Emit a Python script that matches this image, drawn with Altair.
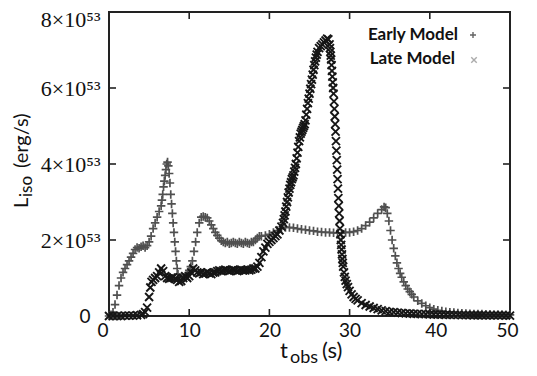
import altair as alt
import pandas as pd

# ---------------- data ----------------
# Late Model (dark curve, "x" markers); luminosity in units of 1e53 erg/s
late_t = [0.0, 0.5, 1.0, 1.5, 2.0, 2.5, 3.0, 3.5, 4.0, 4.25,
          4.5, 4.75, 5.0, 5.15, 5.3, 5.5, 5.75, 6.0, 6.25, 6.5,
          6.75, 7.0, 7.25, 7.5, 7.75, 8.0, 8.25, 8.5, 8.75, 9.0,
          9.25, 9.5, 9.75, 10.0, 10.25, 10.5, 10.75, 11.0, 11.25, 11.5,
          11.75, 12.0, 12.25, 12.5, 12.75, 13.0, 13.25, 13.5, 13.75, 14.0,
          14.25, 14.5, 14.75, 15.0, 15.25, 15.5, 15.75, 16.0, 16.25, 16.5,
          16.75, 17.0, 17.25, 17.5, 17.75, 18.0, 18.25, 18.5, 18.75, 19.0,
          19.25, 19.5, 19.75, 20.0, 20.25, 20.5, 20.75, 21.0, 21.25, 21.5,
          21.7, 21.8, 21.9, 22.0, 22.1, 22.2, 22.3, 22.4, 22.5, 22.6,
          22.7, 22.8, 22.9, 23.0, 23.1, 23.2, 23.3, 23.4, 23.5, 23.6,
          23.7, 23.8, 23.9, 24.0, 24.1, 24.2, 24.3, 24.4, 24.5, 24.6,
          24.7, 24.8, 24.9, 25.0, 25.1, 25.2, 25.3, 25.4, 25.5, 25.6,
          25.7, 25.8, 25.9, 26.0, 26.2, 26.4, 26.6, 26.8, 27.0, 27.2,
          27.35, 27.5, 27.55, 27.6, 27.65, 27.7, 27.75, 27.8, 27.85, 27.9,
          27.95, 28.0, 28.05, 28.1, 28.15, 28.2, 28.25, 28.3, 28.35, 28.4,
          28.45, 28.5, 28.55, 28.6, 28.65, 28.7, 28.75, 28.8, 28.85, 28.9,
          28.95, 29.0, 29.05, 29.1, 29.15, 29.2, 29.3, 29.4, 29.5, 29.65,
          29.8, 30.0, 30.25, 30.5, 30.75, 31.0, 31.5, 32.0, 32.5, 33.0,
          33.5, 34.0, 34.5, 35.0, 35.5, 36.0, 36.5, 37.0, 37.5, 38.0,
          38.5, 39.0, 39.5, 40.0, 40.5, 41.0, 41.5, 42.0, 42.5, 43.0,
          43.5, 44.0, 44.5, 45.0, 45.5, 46.0, 46.5, 47.0, 47.5, 48.0,
          48.5, 49.0, 49.5, 50.0]
late_L = [0.0, 0.0, 0.0, 0.0, 0.01, 0.01, 0.01, 0.02, 0.03, 0.05,
          0.1, 0.22, 0.5, 0.75, 0.9, 0.95, 1.0, 1.05, 1.15, 1.25,
          1.18, 1.05, 1.0, 0.98, 1.0, 1.02, 0.98, 0.95, 0.9, 0.92,
          1.0, 1.05, 1.0, 1.05, 1.15, 1.25, 1.2, 1.15, 1.12, 1.15,
          1.1, 1.12, 1.15, 1.12, 1.1, 1.14, 1.15, 1.18, 1.2, 1.18,
          1.2, 1.22, 1.2, 1.18, 1.2, 1.22, 1.2, 1.18, 1.2, 1.22,
          1.2, 1.2, 1.22, 1.2, 1.22, 1.25, 1.25, 1.3, 1.4, 1.55,
          1.7, 1.8, 1.9, 1.95, 2.0, 2.05, 2.1, 2.15, 2.25, 2.35,
          2.45, 2.55, 2.65, 2.75, 2.88, 3.0, 3.12, 3.25, 3.35, 3.45,
          3.52, 3.6, 3.65, 3.7, 3.8, 3.9, 4.0, 4.15, 4.3, 4.45,
          4.6, 4.7, 4.8, 4.85, 4.9, 4.95, 5.0, 5.05, 5.15, 5.3,
          5.45, 5.6, 5.72, 5.85, 5.98, 6.1, 6.22, 6.35, 6.48, 6.6,
          6.7, 6.8, 6.88, 6.95, 7.05, 7.1, 7.15, 7.2, 7.25, 7.3,
          7.28, 7.15, 7.05, 6.95, 6.85, 6.75, 6.6, 6.45, 6.3, 6.15,
          6.0, 5.85, 5.65, 5.45, 5.25, 5.05, 4.85, 4.6, 4.35, 4.1,
          3.85, 3.6, 3.35, 3.1, 2.9, 2.7, 2.5, 2.3, 2.15, 2.0,
          1.87, 1.75, 1.62, 1.5, 1.4, 1.3, 1.15, 1.03, 0.93, 0.84,
          0.76, 0.66, 0.57, 0.5, 0.45, 0.41, 0.34, 0.29, 0.25, 0.21,
          0.18, 0.15, 0.13, 0.11, 0.1, 0.09, 0.08, 0.07, 0.065, 0.06,
          0.055, 0.05, 0.048, 0.045, 0.04, 0.038, 0.035, 0.032, 0.03, 0.03,
          0.028, 0.025, 0.025, 0.022, 0.02, 0.02, 0.02, 0.018, 0.018, 0.015,
          0.015, 0.015, 0.012, 0.01]

# Early Model (grey curve, "+" markers)
early_t = [0.0, 0.25, 0.5, 0.75, 1.0, 1.25, 1.5, 1.75, 2.0, 2.25,
           2.5, 2.75, 3.0, 3.25, 3.5, 3.75, 4.0, 4.25, 4.5, 4.75,
           5.0, 5.25, 5.5, 5.75, 6.0, 6.25, 6.5, 6.6, 6.7, 6.8,
           6.9, 7.0, 7.1, 7.2, 7.3, 7.4, 7.5, 7.6, 7.7, 7.8,
           7.9, 8.0, 8.1, 8.2, 8.3, 8.4, 8.5, 8.6, 8.75, 9.0,
           9.25, 9.5, 9.75, 10.0, 10.2, 10.4, 10.6, 10.8, 11.0, 11.25,
           11.5, 11.75, 12.0, 12.25, 12.5, 12.75, 13.0, 13.25, 13.5, 13.75,
           14.0, 14.25, 14.5, 14.75, 15.0, 15.25, 15.5, 15.75, 16.0, 16.25,
           16.5, 16.75, 17.0, 17.25, 17.5, 17.75, 18.0, 18.25, 18.5, 18.75,
           19.0, 19.5, 20.0, 20.5, 21.0, 21.5, 22.0, 22.5, 23.0, 23.5,
           24.0, 24.5, 25.0, 25.5, 26.0, 26.5, 27.0, 27.5, 28.0, 28.5,
           29.0, 29.5, 30.0, 30.5, 31.0, 31.5, 32.0, 32.5, 33.0, 33.5,
           34.0, 34.3, 34.5, 34.7, 34.9, 35.1, 35.3, 35.5, 35.7, 35.9,
           36.1, 36.3, 36.5, 36.75, 37.0, 37.25, 37.5, 37.75, 38.0, 38.5,
           39.0, 39.5, 40.0, 40.5, 41.0, 41.5, 42.0, 42.5, 43.0, 43.5,
           44.0, 44.5, 45.0, 45.5, 46.0, 46.5, 47.0, 47.5, 48.0, 48.5,
           49.0, 49.5, 50.0]
early_L = [0.0, 0.03, 0.1, 0.3, 0.55, 0.8, 1.0, 1.15, 1.25, 1.35,
           1.45, 1.55, 1.65, 1.75, 1.8, 1.78, 1.82, 1.85, 1.8, 1.85,
           1.95, 2.1, 2.3, 2.45, 2.6, 2.75, 2.9, 3.05, 3.2, 3.4,
           3.55, 3.7, 3.85, 4.0, 4.05, 3.95, 3.75, 3.5, 3.2, 2.95,
           2.7, 2.45, 2.2, 1.95, 1.7, 1.45, 1.25, 1.1, 1.0, 0.95,
           1.0, 1.05, 1.1, 1.2, 1.3, 1.45, 1.7, 1.95, 2.2, 2.45,
           2.6, 2.62, 2.6, 2.58, 2.5, 2.4, 2.3, 2.2, 2.12, 2.05,
           1.98, 1.95, 1.92, 1.95, 1.9, 1.92, 1.95, 1.92, 1.9, 1.95,
           1.92, 1.9, 1.95, 1.92, 1.9, 1.95, 1.95, 2.0, 2.05, 2.1,
           2.1, 2.12, 2.15, 2.2, 2.25, 2.3, 2.33, 2.33, 2.32, 2.3,
           2.28, 2.27, 2.25, 2.24, 2.22, 2.21, 2.2, 2.2, 2.19, 2.19,
           2.18, 2.2, 2.2, 2.22, 2.25, 2.3, 2.38, 2.47, 2.58, 2.7,
           2.8, 2.87, 2.85, 2.7, 2.5, 2.25, 2.0, 1.78, 1.58, 1.4,
           1.25, 1.12, 1.02, 0.9, 0.8, 0.71, 0.64, 0.57, 0.5, 0.4,
           0.33, 0.27, 0.22, 0.18, 0.15, 0.13, 0.11, 0.1, 0.09, 0.08,
           0.07, 0.065, 0.06, 0.055, 0.05, 0.05, 0.045, 0.045, 0.04, 0.04,
           0.04, 0.035, 0.03]

assert len(late_t) == len(late_L)
assert len(early_t) == len(early_L)

x_label_values = [0, 10, 20, 30, 40, 50]
y_label_values = [0, 2, 4, 6, 8]
x_inner_ticks = [10, 20, 30, 40]
y_inner_ticks = [2, 4, 6]
legend_labels = ["Early Model", "Late Model"]

PLUS = "M-1,0L1,0M0,-1L0,1"
CROSS = "M-1,-1L1,1M-1,1L1,-1"

W, H = 401, 304

early = pd.DataFrame({"t": early_t, "L": early_L})
late = pd.DataFrame({"t": late_t, "L": late_L})

X = alt.X(
    "t:Q",
    scale=alt.Scale(domain=[0, 50], nice=False, zero=False),
    axis=alt.Axis(
        values=x_label_values, ticks=False, domain=False, grid=False, title=None,
        labelFont="Lato", labelFontSize=19, labelColor="#111", labelPadding=5,
        labelOffset={"condition": [{"test": "datum.value == 0", "value": -12},
                                   {"test": "datum.value == 40", "value": 6},
                                   {"test": "datum.value == 50", "value": 8}],
                     "value": 0},
    ),
)
Y = alt.Y(
    "L:Q",
    scale=alt.Scale(domain=[0, 8], nice=False),
    axis=alt.Axis(
        values=y_label_values, ticks=False, domain=False, grid=False, title=None,
        labelExpr="datum.value == 0 ? '0' : datum.value + '×10⁵³'",
        labelFont={"condition": {"test": "datum.value == 0", "value": "Lato"},
                   "value": "Liberation Serif"},
        labelFontSize={"condition": {"test": "datum.value == 0", "value": 19},
                       "value": 22},
        labelPadding={"condition": {"test": "datum.value == 0", "value": 19},
                      "value": 9},
        labelOffset={"condition": {"test": "datum.value == 8", "value": 7},
                     "value": 0},
        labelColor="#111",
    ),
)

early_layer = alt.Chart(early).mark_point(
    shape=PLUS, filled=False, size=72, strokeWidth=1.7, color="#505050", opacity=1
).encode(x=X, y=Y)

late_layer = alt.Chart(late).mark_point(
    shape=CROSS, filled=False, size=64, strokeWidth=1.9, color="#161616", opacity=1
).encode(x=X, y=Y)

xt = pd.DataFrame({"t": x_inner_ticks})
yt = pd.DataFrame({"L": y_inner_ticks})
tick_style = dict(color="#222", strokeWidth=1.6)
bottom_ticks = alt.Chart(xt).mark_rule(**tick_style).encode(x=X, y=alt.value(H), y2=alt.value(H - 7))
top_ticks = alt.Chart(xt).mark_rule(**tick_style).encode(x=X, y=alt.value(0), y2=alt.value(7))
left_ticks = alt.Chart(yt).mark_rule(**tick_style).encode(y=Y, x=alt.value(0), x2=alt.value(7))
right_ticks = alt.Chart(yt).mark_rule(**tick_style).encode(y=Y, x=alt.value(W), x2=alt.value(W - 7))


def txt(s, x, y, size, align="left", angle=0, font="Lato", weight="normal", color="#111", baseline="alphabetic"):
    return alt.Chart(pd.DataFrame({"s": [s]})).mark_text(
        align=align, baseline=baseline, angle=angle, font=font, fontSize=size,
        fontWeight=weight, color=color
    ).encode(x=alt.value(x), y=alt.value(y), text="s:N")


# legend
leg_early = txt(legend_labels[0], 349, 23, 17, align="right", weight="bold", baseline="middle")
leg_late = txt(legend_labels[1], 346, 47, 17, align="right", weight="bold", baseline="middle")
leg_sym = pd.DataFrame({"k": [0]})
leg_plus = alt.Chart(leg_sym).mark_point(
    shape=PLUS, filled=False, size=36, strokeWidth=1.4, color="#222"
).encode(x=alt.value(364), y=alt.value(23))
leg_cross = alt.Chart(leg_sym).mark_point(
    shape=CROSS, filled=False, size=30, strokeWidth=1.4, color="#888"
).encode(x=alt.value(365), y=alt.value(48))

# axis titles (with subscripts)
yt_L = txt("L", -81, 196, 20, angle=270)
yt_iso = txt("iso", -77, 185, 17, angle=270)
yt_unit = txt("(erg/s)", -81, 156, 20, angle=270)
xt_t = txt("t", 171, 346, 22)
xt_obs = txt("obs", 181, 351, 18)
xt_unit = txt("(s)", 213, 346, 22)

chart = alt.layer(
    early_layer, late_layer,
    bottom_ticks, top_ticks, left_ticks, right_ticks,
    leg_early, leg_late, leg_plus, leg_cross,
    yt_L, yt_iso, yt_unit, xt_t, xt_obs, xt_unit,
).properties(
    width=W, height=H,
    autosize=alt.AutoSizeParams(type="none"),
    padding={"left": 101, "top": 4, "right": 19, "bottom": 52},
    background="white",
).configure_view(
    stroke="#222", strokeWidth=2
)

chart.save("out.html", embed_options={"renderer": "svg", "actions": False})
